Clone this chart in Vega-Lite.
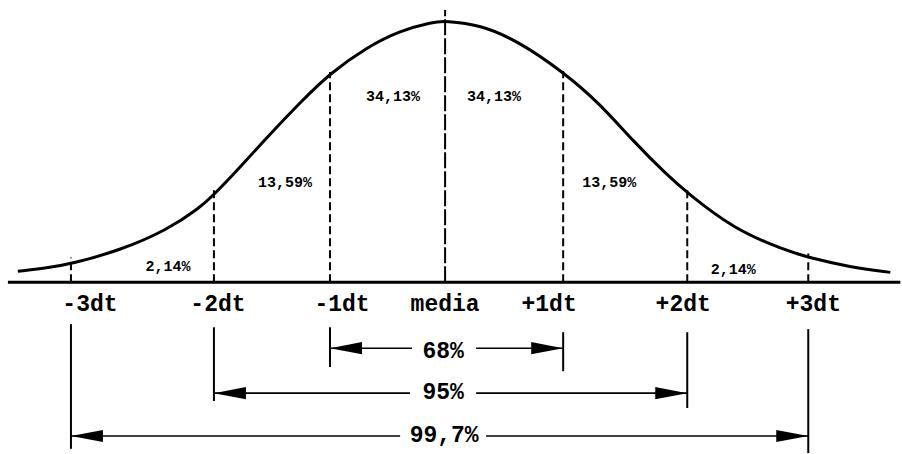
{
  "$schema": "https://vega.github.io/schema/vega-lite/v6.json",
  "width": 902,
  "height": 454,
  "padding": 0,
  "autosize": {"type": "fit", "contains": "padding"},
  "background": "white",
  "config": {"view": {"stroke": null}},
  "datasets": {
    "curve": [
      {"x": -3.619, "y": 0.042}, {"x": -3.347, "y": 0.057}, {"x": -3.169, "y": 0.07},
      {"x": -2.754, "y": 0.122}, {"x": -2.356, "y": 0.2}, {"x": -2.076, "y": 0.285},
      {"x": -1.958, "y": 0.336}, {"x": -1.797, "y": 0.41}, {"x": -1.508, "y": 0.555},
      {"x": -1.229, "y": 0.687}, {"x": -0.975, "y": 0.8}, {"x": -0.661, "y": 0.9},
      {"x": -0.381, "y": 0.963}, {"x": -0.102, "y": 0.996}, {"x": 0, "y": 1.0},
      {"x": 0.297, "y": 0.985}, {"x": 0.61, "y": 0.925}, {"x": 1.0, "y": 0.805},
      {"x": 1.314, "y": 0.682}, {"x": 1.593, "y": 0.54}, {"x": 1.881, "y": 0.41},
      {"x": 2.051, "y": 0.342}, {"x": 2.441, "y": 0.205}, {"x": 2.864, "y": 0.125},
      {"x": 3.076, "y": 0.095}, {"x": 3.432, "y": 0.058},
      {"x": 3.771, "y": 0.038}
    ],
    "baseline": [{"x": -3.703, "x2": 3.856, "y": 0}],
    "dashed": [
      {"x": -3.169, "y": 0, "y2": 0.095},
      {"x": -1.958, "y": 0, "y2": 0.355},
      {"x": -0.975, "y": 0, "y2": 0.805},
      {"x": 1.0, "y": 0, "y2": 0.808},
      {"x": 2.051, "y": 0, "y2": 0.355},
      {"x": 3.076, "y": 0, "y2": 0.11}
    ],
    "media": [{"x": 0, "y": 0, "y2": 1.042}],
    "brackets": [
      {"x": -3.169, "y": -0.16, "y2": -0.637},
      {"x": -1.958, "y": -0.172, "y2": -0.454},
      {"x": -0.975, "y": -0.172, "y2": -0.324},
      {"x": 1.0, "y": -0.191, "y2": -0.34},
      {"x": 2.051, "y": -0.191, "y2": -0.481},
      {"x": 3.076, "y": -0.179, "y2": -0.653}
    ],
    "spans": [
      {"x": -0.975, "x2": -0.28, "y": -0.252},
      {"x": 0.263, "x2": 1.0, "y": -0.252},
      {"x": -1.958, "x2": -0.297, "y": -0.424},
      {"x": 0.263, "x2": 2.051, "y": -0.424},
      {"x": -3.169, "x2": -0.381, "y": -0.588},
      {"x": 0.347, "x2": 3.076, "y": -0.588}
    ],
    "arrows": [
      {"x": -0.975, "y": -0.252, "dir": "left"},
      {"x": 1.0, "y": -0.252, "dir": "right"},
      {"x": -1.958, "y": -0.424, "dir": "left"},
      {"x": 2.051, "y": -0.424, "dir": "right"},
      {"x": -3.169, "y": -0.588, "dir": "left"},
      {"x": 3.076, "y": -0.588, "dir": "right"}
    ],
    "axisLabels": [
      {"x": -3.008, "y": -0.084, "t": "-3dt"},
      {"x": -1.924, "y": -0.084, "t": "-2dt"},
      {"x": -0.873, "y": -0.084, "t": "-1dt"},
      {"x": 0, "y": -0.084, "t": "media"},
      {"x": 0.881, "y": -0.084, "t": "+1dt"},
      {"x": 2.017, "y": -0.084, "t": "+2dt"},
      {"x": 3.119, "y": -0.084, "t": "+3dt"}
    ],
    "rangeLabels": [
      {"x": -0.017, "y": -0.263, "t": "68%"},
      {"x": -0.017, "y": -0.42, "t": "95%"},
      {"x": -0.008, "y": -0.584, "t": "99,7%"}
    ],
    "areaLabels": [
      {"x": -2.347, "y": 0.061, "t": "2,14%"},
      {"x": -1.356, "y": 0.385, "t": "13,59%"},
      {"x": -0.441, "y": 0.714, "t": "34,13%"},
      {"x": 0.415, "y": 0.714, "t": "34,13%"},
      {"x": 1.39, "y": 0.382, "t": "13,59%"},
      {"x": 2.441, "y": 0.05, "t": "2,14%"}
    ]
  },
  "layer": [
    {
      "data": {"name": "baseline"},
      "mark": {"type": "rule", "color": "black", "strokeWidth": 3},
      "encoding": {
        "x": {"field": "x", "type": "quantitative", "axis": null, "scale": {"domain": [-3.77, 3.87], "nice": false, "zero": false}},
        "x2": {"field": "x2"},
        "y": {"field": "y", "type": "quantitative", "axis": null, "scale": {"domain": [-0.653, 1.08], "nice": false, "zero": false}}
      }
    },
    {
      "data": {"name": "curve"},
      "mark": {"type": "line", "color": "black", "strokeWidth": 3, "interpolate": "basis"},
      "encoding": {
        "x": {"field": "x", "type": "quantitative", "axis": null},
        "y": {"field": "y", "type": "quantitative", "axis": null}
      }
    },
    {
      "data": {"name": "dashed"},
      "mark": {"type": "rule", "color": "black", "strokeWidth": 2, "strokeDash": [8, 4]},
      "encoding": {
        "x": {"field": "x", "type": "quantitative", "axis": null},
        "y": {"field": "y", "type": "quantitative", "axis": null},
        "y2": {"field": "y2"}
      }
    },
    {
      "data": {"name": "media"},
      "mark": {"type": "rule", "color": "black", "strokeWidth": 2, "strokeDash": [16, 3]},
      "encoding": {
        "x": {"field": "x", "type": "quantitative", "axis": null},
        "y": {"field": "y", "type": "quantitative", "axis": null},
        "y2": {"field": "y2"}
      }
    },
    {
      "data": {"name": "brackets"},
      "mark": {"type": "rule", "color": "black", "strokeWidth": 2},
      "encoding": {
        "x": {"field": "x", "type": "quantitative", "axis": null},
        "y": {"field": "y", "type": "quantitative", "axis": null},
        "y2": {"field": "y2"}
      }
    },
    {
      "data": {"name": "spans"},
      "mark": {"type": "rule", "color": "black", "strokeWidth": 1.6},
      "encoding": {
        "x": {"field": "x", "type": "quantitative", "axis": null},
        "x2": {"field": "x2"},
        "y": {"field": "y", "type": "quantitative", "axis": null}
      }
    },
    {
      "data": {"name": "arrows"},
      "mark": {"type": "point", "filled": true, "color": "black", "opacity": 1, "size": 1024, "strokeWidth": 0},
      "encoding": {
        "x": {"field": "x", "type": "quantitative", "axis": null},
        "y": {"field": "y", "type": "quantitative", "axis": null},
        "shape": {"field": "dir", "type": "nominal", "legend": null, "scale": {"domain": ["left", "right"], "range": ["M0,0L2,-0.38L2,0.38Z", "M0,0L-2,-0.38L-2,0.38Z"]}}
      }
    },
    {
      "data": {"name": "axisLabels"},
      "mark": {"type": "text", "font": "Liberation Mono", "fontWeight": "bold", "fontSize": 23, "color": "black", "baseline": "middle", "align": "center"},
      "encoding": {
        "x": {"field": "x", "type": "quantitative", "axis": null},
        "y": {"field": "y", "type": "quantitative", "axis": null},
        "text": {"field": "t"}
      }
    },
    {
      "data": {"name": "rangeLabels"},
      "mark": {"type": "text", "font": "Liberation Mono", "fontWeight": "bold", "fontSize": 23, "color": "black", "baseline": "middle", "align": "center"},
      "encoding": {
        "x": {"field": "x", "type": "quantitative", "axis": null},
        "y": {"field": "y", "type": "quantitative", "axis": null},
        "text": {"field": "t"}
      }
    },
    {
      "data": {"name": "areaLabels"},
      "mark": {"type": "text", "font": "Liberation Mono", "fontWeight": "bold", "fontSize": 15, "color": "black", "baseline": "middle", "align": "center"},
      "encoding": {
        "x": {"field": "x", "type": "quantitative", "axis": null},
        "y": {"field": "y", "type": "quantitative", "axis": null},
        "text": {"field": "t"}
      }
    }
  ]
}
